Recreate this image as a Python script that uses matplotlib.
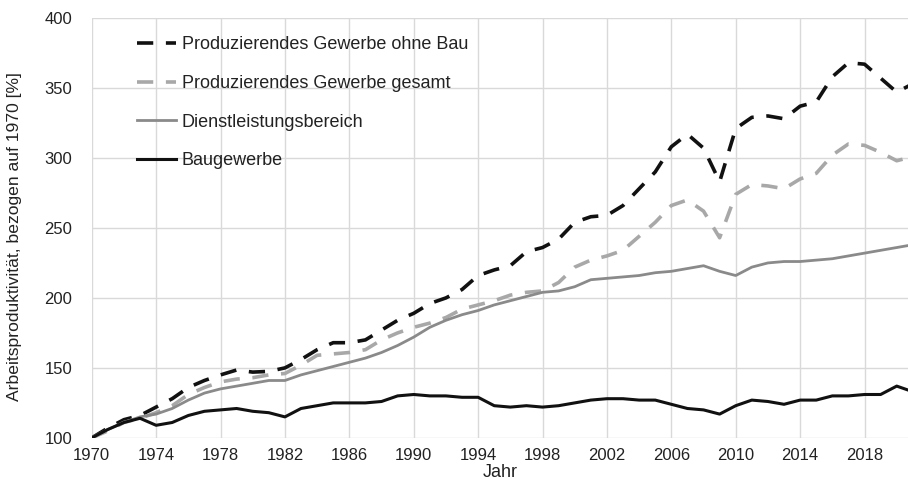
import matplotlib
matplotlib.use("Agg")
import matplotlib.pyplot as plt

plt.rcParams['font.family'] = ['Liberation Sans', 'DejaVu Sans']

jahre = list(range(1970, 2022))

# Produzierendes Gewerbe ohne Bau
ohne_bau = [100, 107, 113, 116, 122, 128, 136, 141, 145, 148.5,
            147, 147.5, 150, 156, 163, 168, 168, 170, 177, 184,
            189, 196, 200, 206, 216, 220, 223, 233, 236, 242,
            254, 258, 259, 266, 278, 290, 308, 317, 307, 283,
            321, 329, 330, 328, 337, 340, 358, 368, 367, 357,
            347, 353]

# Produzierendes Gewerbe gesamt
gesamt = [100, 105, 111, 114, 118, 123, 131, 136, 140, 142,
          143, 145, 146, 152, 159, 160, 161, 163, 170, 175,
          179, 182, 186, 192, 195, 198, 202, 204, 205, 211,
          222, 227, 230, 234, 244, 254, 266, 270, 262, 243,
          274, 281, 280, 278, 285, 289, 302, 310, 309, 304,
          298, 301]

# Dienstleistungsbereich
dienst = [100, 106, 111, 115, 117, 121, 127, 132, 135, 137,
          139, 141, 141, 145, 148, 151, 154, 157, 161, 166,
          172, 179, 184, 188, 191, 195, 198, 201, 204, 205,
          208, 213, 214, 215, 216, 218, 219, 221, 223, 219,
          216, 222, 225, 226, 226, 227, 228, 230, 232, 234,
          236, 238]

# Baugewerbe
bau = [100, 106, 111, 114, 109, 111, 116, 119, 120, 121,
       119, 118, 115, 121, 123, 125, 125, 125, 126, 130,
       131, 130, 130, 129, 129, 123, 122, 123, 122, 123,
       125, 127, 128, 128, 127, 127, 124, 121, 120, 117,
       123, 127, 126, 124, 127, 127, 130, 130, 131, 131,
       137, 133]

x_ticks = list(range(1970, 2021, 4))
y_ticks = [100, 150, 200, 250, 300, 350, 400]

fig = plt.figure(figsize=(9.08, 4.86), dpi=100)
ax = fig.add_axes([0.101, 0.099, 0.899, 0.864])

ax.plot(jahre, ohne_bau, color="#111111", lw=2.6, ls=(0, (4.5, 3.5)),
        label="Produzierendes Gewerbe ohne Bau")
ax.plot(jahre, gesamt, color="#a8a8a8", lw=2.6, ls=(0, (4.5, 3.5)),
        label="Produzierendes Gewerbe gesamt")
ax.plot(jahre, dienst, color="#8a8a8a", lw=2.0,
        label="Dienstleistungsbereich")
ax.plot(jahre, bau, color="#111111", lw=2.2,
        label="Baugewerbe")

ax.set_xlim(1970, 2020.7)
ax.set_ylim(100, 400)
ax.set_xticks(x_ticks)
ax.set_yticks(y_ticks)
ax.tick_params(length=0, labelsize=12, colors="#222222")
ax.tick_params(axis="y", pad=14)
ax.tick_params(axis="x", pad=7)
ax.grid(True, color="#d9d9d9", lw=1)
ax.set_axisbelow(True)
for s in ax.spines.values():
    s.set_visible(False)

ax.set_xlabel("Jahr", fontsize=13, color="#222222", labelpad=1)
ax.set_ylabel("Arbeitsproduktivität, bezogen auf 1970 [%]", fontsize=12.6,
              color="#222222", labelpad=8)
ax.yaxis.set_label_coords(-0.085, 0.48)

leg = ax.legend(loc="upper left", bbox_to_anchor=(0.035, 0.995), frameon=False,
                fontsize=13, labelspacing=1.2, handlelength=2.2,
                handletextpad=0.3)
for t in leg.get_texts():
    t.set_color("#222222")

fig.savefig("out.png", dpi=100)
